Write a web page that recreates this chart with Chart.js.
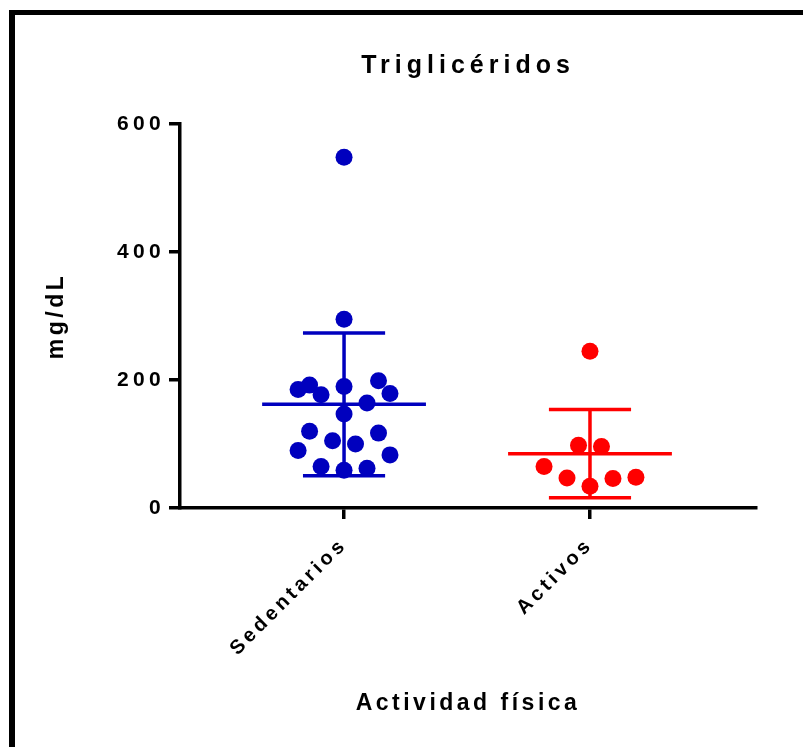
<!DOCTYPE html>
<html lang="es">
<head>
<meta charset="utf-8">
<title>Triglicéridos</title>
<script src="https://cdn.jsdelivr.net/npm/chart.js@4"></script>
<style>
    html, body { margin: 0; padding: 0; background: #fff; overflow: hidden; }
    #marco { position: relative; width: 803px; height: 747px; }
    #borde { position: absolute; left: 9px; top: 10px; right: 0; bottom: 0; border-left: 6px solid #000; border-top: 5px solid #000; }
    #grafico { position: absolute; left: 0; top: 0; }
</style>
</head>
<body>
<div id="marco">
    <div id="borde"></div>
    <canvas id="grafico" width="803" height="747"></canvas>
</div>
<script>
// datos (mg/dL)
const categorias = ['Sedentarios', 'Activos'];
const sedentarios        = [548, 295, 185, 192, 177, 190, 199, 179, 164, 147, 120, 105, 100, 117, 90, 83, 65, 59, 62];
const sedentariosColumna = [0, 0, -4, -3, -2, 0, 3, 4, 2, 0, -3, -1, 1, 3, -4, 4, -2, 0, 2];
const activos        = [245, 98, 96, 65, 47, 34, 46, 48];
const activosColumna = [0, -1, 1, -4, -2, 0, 2, 4];
const ticksY = [0, 200, 400, 600];

const colores = ['#0000BE', '#FF0000'];
const ANCHO_COLUMNA = 0.0467;   // separación horizontal entre puntos
const MEDIA_ANCHO = 0.333;
const TOPE_ANCHO = 0.167;
const FUENTE = "'Liberation Sans', Arial, sans-serif";

function media(lista) {
    return lista.reduce((a, b) => a + b, 0) / lista.length;
}

function desvio(lista) {
    const m = media(lista);
    return Math.sqrt(lista.reduce((a, v) => a + (v - m) * (v - m), 0) / (lista.length - 1));
}

function puntos(valores, columnas, i) {
    return valores.map((v, k) => ({ x: i + columnas[k] * ANCHO_COLUMNA, y: v }));
}

// media ± DE como segmentos separados por huecos
function barras(valores, i) {
    const m = media(valores), s = desvio(valores);
    const hueco = { x: i, y: null };
    return [
        { x: i - MEDIA_ANCHO, y: m }, { x: i + MEDIA_ANCHO, y: m }, hueco,
        { x: i, y: m - s }, { x: i, y: m + s }, hueco,
        { x: i - TOPE_ANCHO, y: m + s }, { x: i + TOPE_ANCHO, y: m + s }, hueco,
        { x: i - TOPE_ANCHO, y: m - s }, { x: i + TOPE_ANCHO, y: m - s }
    ];
}

// espaciado entre letras según el tamaño de la fuente
function espaciado(font) {
    const t = parseFloat((font.match(/([\d.]+)px/) || [0, 0])[1]);
    if (t >= 25) return 5;
    if (t >= 23) return 3.5;
    if (t >= 21) return 4.3;
    return 3.8;
}

const espacioLetras = {
    id: 'espacioLetras',
    beforeInit(chart) {
        const ctx = chart.ctx;
        const rellenar = ctx.fillText, medir = ctx.measureText;
        ctx.fillText = function (...a) { this.letterSpacing = espaciado(this.font) + 'px'; return rellenar.apply(this, a); };
        ctx.measureText = function (...a) { this.letterSpacing = espaciado(this.font) + 'px'; return medir.apply(this, a); };
    }
};

const series = [sedentarios, activos];
const columnas = [sedentariosColumna, activosColumna];

const datasets = [];
series.forEach((valores, i) => {
    datasets.push({
        label: categorias[i],
        data: puntos(valores, columnas[i], i),
        backgroundColor: colores[i],
        borderWidth: 0,
        pointRadius: 8.5,
        order: 0
    });
    datasets.push({
        type: 'line',
        label: categorias[i] + ' media',
        data: barras(valores, i),
        borderColor: colores[i],
        borderWidth: 3.5,
        pointRadius: 0,
        spanGaps: false,
        order: 1
    });
});

new Chart(document.getElementById('grafico'), {
    type: 'scatter',
    data: { datasets },
    options: {
        responsive: false,
        animation: false,
        events: [],
        layout: { padding: { left: 20, right: 47, top: 0, bottom: 0 } },
        plugins: {
            legend: { display: false },
            tooltip: { enabled: false },
            title: {
                display: true,
                fullSize: false,
                text: 'Triglicéridos',
                color: '#000',
                font: { family: FUENTE, size: 25, weight: 'bold', lineHeight: 1.2 },
                padding: { top: 51, bottom: 43 }
            }
        },
        scales: {
            x: {
                type: 'linear',
                min: -0.667,
                max: 1.675,
                afterBuildTicks: escala => { escala.ticks = categorias.map((c, i) => ({ value: i })); },
                afterFit: escala => { escala.height = 239; },
                ticks: {
                    color: '#000',
                    minRotation: 45,
                    maxRotation: 45,
                    padding: 14,
                    font: { family: FUENTE, size: 20, weight: 'bold' },
                    callback: v => categorias[v]
                },
                grid: { drawOnChartArea: false, drawTicks: true, tickLength: 11, lineWidth: 3.5, color: '#000' },
                border: { display: true, width: 3.5, color: '#000' },
                title: {
                    display: true,
                    text: 'Actividad física',
                    color: '#000',
                    font: { family: FUENTE, size: 23, weight: 'bold', lineHeight: 1.2 },
                    padding: { top: 0, bottom: 30 }
                }
            },
            y: {
                min: 0,
                max: 600,
                afterBuildTicks: escala => { escala.ticks = ticksY.map(v => ({ value: v })); },
                afterFit: escala => { escala.width = 160; },
                ticks: {
                    color: '#000',
                    padding: 4,
                    font: { family: FUENTE, size: 21, weight: 'bold' }
                },
                grid: { drawOnChartArea: false, drawTicks: true, tickLength: 11, lineWidth: 3.5, color: '#000' },
                border: { display: true, width: 3.5, color: '#000' },
                title: {
                    display: true,
                    text: 'mg/dL',
                    color: '#000',
                    font: { family: FUENTE, size: 23, weight: 'bold', lineHeight: 1.2 },
                    padding: { top: 23, bottom: 0 }
                }
            }
        }
    },
    plugins: [espacioLetras]
});
</script>
</body>
</html>
